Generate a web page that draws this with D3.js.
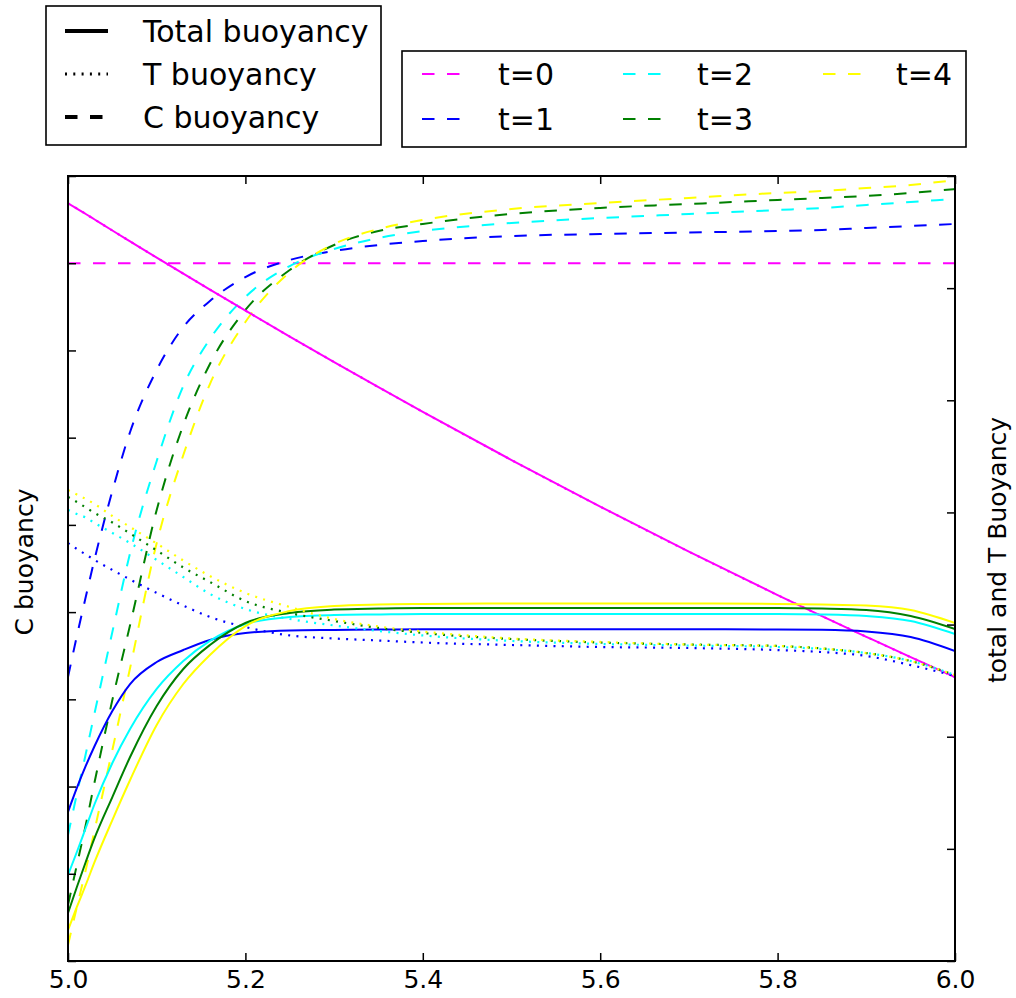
<!DOCTYPE html>
<html>
<head>
<meta charset="utf-8">
<script src="https://cdn.jsdelivr.net/npm/d3@7"></script>
<style>
  html, body { margin: 0; padding: 0; background: #ffffff; }
  svg { display: block; font-family: "DejaVu Sans", sans-serif; }
</style>
</head>
<body>
<svg id="chart" width="1016" height="998"></svg>
<script>
// ---------------- data ----------------
const xValues = [5.00, 5.01, 5.02, 5.03, 5.05, 5.07, 5.10, 5.13, 5.16, 5.20, 5.25,
                 5.30, 5.35, 5.40, 5.50, 5.60, 5.70, 5.80, 5.85, 5.90, 5.95, 6.00];

const timeLabels = ["t=0", "t=1", "t=2", "t=3", "t=4"];
const timeColors = ["#ff00ff", "#0000ff", "#00ffff", "#008000", "#ffff00"];

// C buoyancy (left axis)
const cBuoyT0 = [8.000, 8.000, 8.000, 8.000, 8.000, 8.000, 8.000, 8.000, 8.000, 8.000, 8.000,
                 8.000, 8.000, 8.000, 8.000, 8.000, 8.000, 8.000, 8.000, 8.000, 8.000, 8.000];
const cBuoyT1 = [3.256, 3.726, 4.173, 4.609, 5.389, 6.065, 6.776, 7.269, 7.567, 7.842, 8.037,
                 8.140, 8.209, 8.255, 8.312, 8.335, 8.352, 8.370, 8.381, 8.404, 8.427, 8.450];
const cBuoyT2 = [1.445, 1.915, 2.373, 2.843, 3.772, 4.678, 5.733, 6.592, 7.131, 7.613, 7.968,
                 8.163, 8.289, 8.369, 8.461, 8.518, 8.564, 8.610, 8.633, 8.668, 8.702, 8.737];
const cBuoyT3 = [0.642, 1.101, 1.559, 2.052, 2.992, 3.852, 5.171, 6.145, 6.845, 7.464, 7.922,
                 8.209, 8.370, 8.450, 8.565, 8.634, 8.679, 8.725, 8.748, 8.771, 8.805, 8.851];
const cBuoyT4 = [0.183, 0.619, 1.043, 1.502, 2.419, 3.359, 4.792, 5.801, 6.615, 7.326, 7.899,
                 8.220, 8.392, 8.496, 8.622, 8.691, 8.748, 8.806, 8.828, 8.862, 8.897, 8.954];

// Total buoyancy (right axis)
const totalBuoyT0 = [6.757, 6.710, 6.661, 6.612, 6.514, 6.417, 6.272, 6.129, 5.987, 5.800, 5.568,
                     5.341, 5.117, 4.897, 4.467, 4.052, 3.650, 3.263, 3.075, 2.891, 2.709, 2.532];
const totalBuoyT1 = [1.329, 1.543, 1.739, 1.917, 2.229, 2.470, 2.666, 2.773, 2.863, 2.925, 2.947,
                     2.952, 2.956, 2.958, 2.958, 2.958, 2.958, 2.956, 2.953, 2.938, 2.889, 2.764];
const totalBuoyT2 = [0.767, 0.972, 1.186, 1.400, 1.766, 2.069, 2.426, 2.675, 2.854, 3.005, 3.068,
                     3.085, 3.090, 3.094, 3.094, 3.094, 3.094, 3.094, 3.090, 3.076, 3.032, 2.916];
const totalBuoyT3 = [0.428, 0.660, 0.883, 1.097, 1.462, 1.819, 2.274, 2.604, 2.818, 3.014, 3.103,
                     3.134, 3.143, 3.148, 3.148, 3.148, 3.148, 3.148, 3.143, 3.130, 3.077, 2.961];
const totalBuoyT4 = [0.276, 0.482, 0.678, 0.883, 1.257, 1.614, 2.105, 2.470, 2.729, 2.987, 3.121,
                     3.166, 3.179, 3.184, 3.188, 3.188, 3.188, 3.184, 3.179, 3.170, 3.130, 3.014];

// T buoyancy (right axis)
const tBuoyT0 = [6.757, 6.710, 6.661, 6.612, 6.514, 6.417, 6.272, 6.129, 5.987, 5.800, 5.568,
                 5.341, 5.117, 4.897, 4.467, 4.052, 3.650, 3.263, 3.075, 2.891, 2.709, 2.532];
const tBuoyT1 = [3.727, 3.674, 3.625, 3.576, 3.487, 3.402, 3.282, 3.170, 3.068, 2.978, 2.903,
                 2.876, 2.858, 2.840, 2.818, 2.800, 2.791, 2.773, 2.755, 2.720, 2.639, 2.541];
const tBuoyT2 = [4.022, 3.986, 3.955, 3.906, 3.817, 3.727, 3.576, 3.424, 3.273, 3.139, 3.050,
                 2.992, 2.943, 2.903, 2.854, 2.827, 2.813, 2.800, 2.782, 2.746, 2.675, 2.550];
const tBuoyT3 = [4.138, 4.093, 4.044, 3.995, 3.910, 3.812, 3.661, 3.509, 3.380, 3.210, 3.103,
                 3.032, 2.970, 2.925, 2.871, 2.840, 2.822, 2.809, 2.787, 2.746, 2.675, 2.550];
const tBuoyT4 = [4.200, 4.160, 4.120, 4.075, 3.968, 3.870, 3.723, 3.571, 3.433, 3.282, 3.157,
                 3.050, 2.983, 2.938, 2.876, 2.845, 2.822, 2.809, 2.787, 2.746, 2.675, 2.550];

const xTicks = [5.0, 5.2, 5.4, 5.6, 5.8, 6.0];
const xTickLabels = ["5.0", "5.2", "5.4", "5.6", "5.8", "6.0"];
const leftTicks = [0, 1, 2, 3, 4, 5, 6, 7, 8, 9];
const rightTicks = [0, 1, 2, 3, 4, 5, 6, 7];

const styleLegendLabels = ["Total buoyancy", "T buoyancy", "C buoyancy"];
const leftAxisTitle = "C buoyancy";
const rightAxisTitle = "total and T Buoyancy";

const cSeries = [cBuoyT0, cBuoyT1, cBuoyT2, cBuoyT3, cBuoyT4];
const totalSeries = [totalBuoyT0, totalBuoyT1, totalBuoyT2, totalBuoyT3, totalBuoyT4];
const tSeries = [tBuoyT0, tBuoyT1, tBuoyT2, tBuoyT3, tBuoyT4];

// ---------------- layout ----------------
const L = 68, R = 955, T = 176, B = 961;
const DASH = "12.5,12.5";
const DOT = "2,6.3";

const svg = d3.select("#chart");

const x = d3.scaleLinear().domain([5.0, 6.0]).range([L, R]);
const yLeft = d3.scaleLinear().domain([0, 9]).range([B, T]);
const yRight = d3.scaleLinear().domain([0, 7]).range([B, T]);

svg.append("defs").append("clipPath").attr("id", "plotclip")
  .append("rect").attr("x", L).attr("y", T).attr("width", R - L).attr("height", B - T);

const plot = svg.append("g").attr("clip-path", "url(#plotclip)");

const lineLeft = d3.line().x((d, i) => x(xValues[i])).y(d => yLeft(d)).curve(d3.curveMonotoneX);
const lineRight = d3.line().x((d, i) => x(xValues[i])).y(d => yRight(d)).curve(d3.curveMonotoneX);

// C buoyancy dashed (left axis)
cSeries.forEach((s, k) => {
  plot.append("path").attr("d", lineLeft(s))
    .attr("fill", "none").attr("stroke", timeColors[k]).attr("stroke-width", 2)
    .attr("stroke-dasharray", DASH);
});
// Total (solid) and T (dotted) on right axis
totalSeries.forEach((s, k) => {
  plot.append("path").attr("d", lineRight(tSeries[k]))
    .attr("fill", "none").attr("stroke", timeColors[k]).attr("stroke-width", 2.2)
    .attr("stroke-dasharray", DOT);
  plot.append("path").attr("d", lineRight(s))
    .attr("fill", "none").attr("stroke", timeColors[k]).attr("stroke-width", 2);
});

// ---------------- axes ----------------
const fmt = (d) => xTickLabels[xTicks.indexOf(d)];
const axB = svg.append("g").attr("transform", `translate(0,${B})`)
  .call(d3.axisBottom(x).tickValues(xTicks).tickFormat(fmt).tickSizeInner(-8).tickSizeOuter(0).tickPadding(9));
const axT = svg.append("g").attr("transform", `translate(0,${T})`)
  .call(d3.axisTop(x).tickValues(xTicks).tickFormat("").tickSizeInner(-8).tickSizeOuter(0));
const axL = svg.append("g").attr("transform", `translate(${L},0)`)
  .call(d3.axisLeft(yLeft).tickValues(leftTicks).tickFormat("").tickSizeInner(-8).tickSizeOuter(0));
const axR = svg.append("g").attr("transform", `translate(${R},0)`)
  .call(d3.axisRight(yRight).tickValues(rightTicks).tickFormat("").tickSizeInner(-8).tickSizeOuter(0));

[axB, axT, axL, axR].forEach(g => {
  g.select(".domain").remove();
  g.selectAll(".tick line").attr("stroke", "#000").attr("stroke-width", 1.5);
});
axB.selectAll(".tick text").attr("font-size", 25).attr("fill", "#000")
  .attr("font-family", "'DejaVu Sans', sans-serif");

svg.append("rect").attr("x", L).attr("y", T).attr("width", R - L).attr("height", B - T)
  .attr("fill", "none").attr("stroke", "#000").attr("stroke-width", 2);

// axis titles
svg.append("text").attr("transform", "translate(33,562) rotate(-90)")
  .attr("text-anchor", "middle").attr("font-size", 25).text(leftAxisTitle);
svg.append("text").attr("transform", "translate(1006,550) rotate(-90)")
  .attr("text-anchor", "middle").attr("font-size", 25).text(rightAxisTitle);

// ---------------- legend 1 (line styles) ----------------
const lg1 = svg.append("g");
lg1.append("rect").attr("x", 46).attr("y", 6).attr("width", 335).attr("height", 139)
  .attr("fill", "#fff").attr("stroke", "#000").attr("stroke-width", 1.6);
const lg1Rows = [31, 74, 117];
const lg1Dash = [null, "2,6.3", "12.5,12.5"];
const lg1Width = [4, 3, 4];
styleLegendLabels.forEach((lab, i) => {
  const ln = lg1.append("line").attr("x1", 65).attr("x2", 108)
    .attr("y1", lg1Rows[i]).attr("y2", lg1Rows[i])
    .attr("stroke", "#000").attr("stroke-width", lg1Width[i]);
  if (lg1Dash[i]) ln.attr("stroke-dasharray", lg1Dash[i]);
  lg1.append("text").attr("x", 143).attr("y", lg1Rows[i] + 11)
    .attr("font-size", 30).text(lab);
});

// ---------------- legend 2 (times) ----------------
const lg2 = svg.append("g");
lg2.append("rect").attr("x", 402).attr("y", 51).attr("width", 564).attr("height", 96)
  .attr("fill", "#fff").attr("stroke", "#000").attr("stroke-width", 1.6);
const colLine = [422, 623, 823];
const colText = [498, 697, 896];
const rowY = [74, 119];
timeLabels.forEach((lab, k) => {
  const c = Math.floor(k / 2), r = k % 2;
  lg2.append("line").attr("x1", colLine[c]).attr("x2", colLine[c] + 40)
    .attr("y1", rowY[r]).attr("y2", rowY[r])
    .attr("stroke", timeColors[k]).attr("stroke-width", 2)
    .attr("stroke-dasharray", DASH);
  lg2.append("text").attr("x", colText[c]).attr("y", rowY[r] + 11)
    .attr("font-size", 30).text(lab);
});
</script>
</body>
</html>
